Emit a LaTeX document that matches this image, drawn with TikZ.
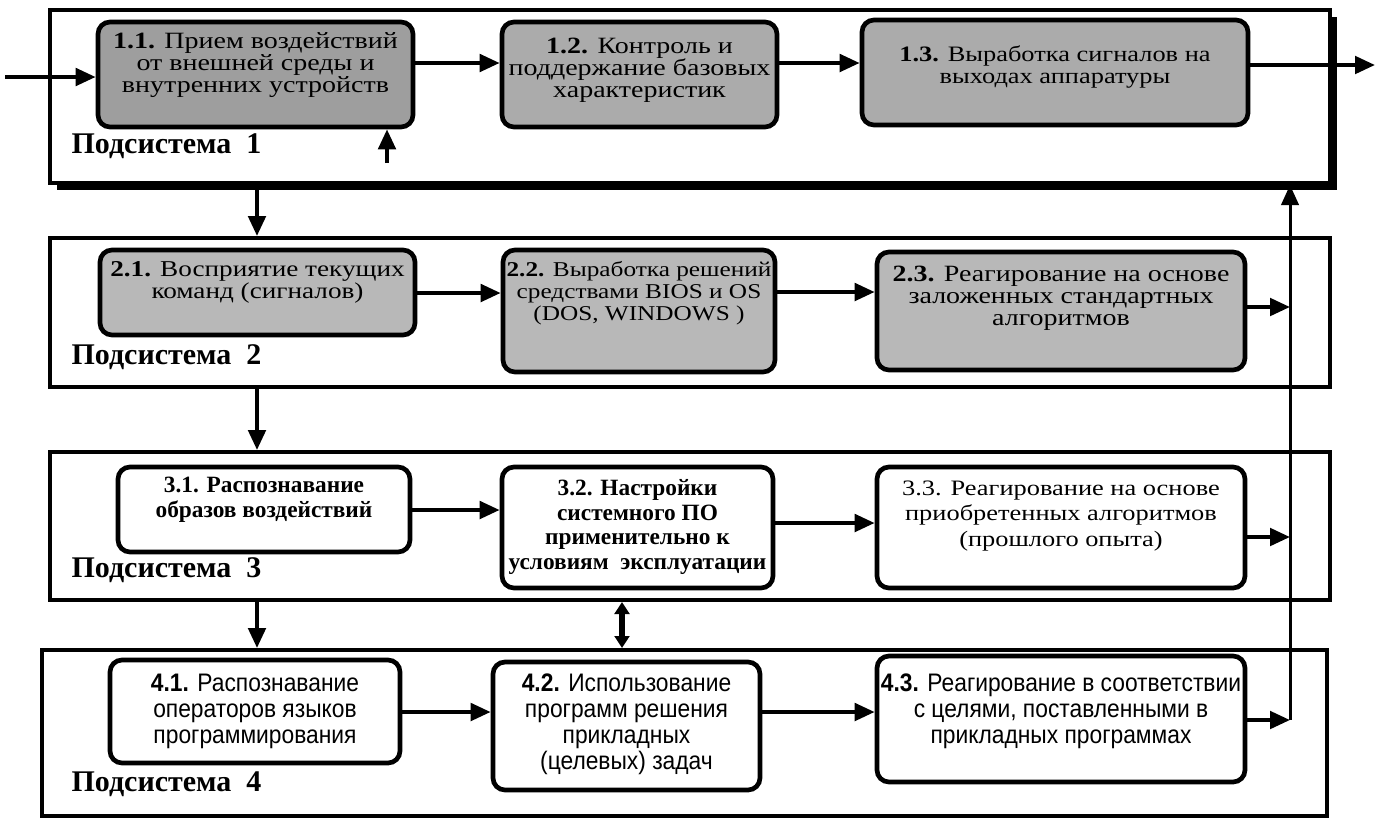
\documentclass[tikz,border=0pt]{standalone}
\usepackage{fontspec}
\setmainfont{Liberation Serif}
\newfontfamily\widerm[FakeStretch=1.2]{Liberation Serif}
\newfontfamily\narrowsf[FakeStretch=0.9]{Liberation Sans}
\usetikzlibrary{arrows.meta,shadows}
\tikzset{every picture/.style={line width=0.75pt}}
\tikzset{
  subsys/.style={draw,line width=3pt,fill=white,inner sep=0pt},
  blk/.style={draw,line width=3.5pt,rounded corners=9pt,inner sep=0pt},
  txt/.style={align=center,inner sep=0.75pt,font=\widerm\fontsize{17.5}{16.5}\selectfont},
  txtb/.style={align=center,inner sep=0.75pt,font=\fontsize{17.5}{18.5}\selectfont\bfseries},
  txtn/.style={align=center,inner sep=0.75pt,font=\narrowsf\fontsize{19}{19.5}\selectfont},
  lbl/.style={anchor=west,inner sep=0.75pt,font=\fontsize{22.5}{24}\selectfont\bfseries},
  arr/.style={line width=3pt,-{Triangle[length=15pt,width=13pt]}},
}

\begin{document}
\begin{tikzpicture}[x=0.75pt,y=0.75pt,yscale=-1,xscale=1]
\useasboundingbox (0,0) rectangle (1376,819);

%Shape: Rectangle [subsystems]
\node[subsys,minimum width=960pt,minimum height=129.75pt,
  drop shadow={shadow xshift=5pt,shadow yshift=-5pt,opacity=1,fill=black}] (fr1) at (690,96.5) {};
\node[subsys,minimum width=960pt,minimum height=111.75pt] (fr2) at (690,312.5) {};
\node[subsys,minimum width=960pt,minimum height=111pt] (fr3) at (690,526) {};
\node[subsys,minimum width=963.75pt,minimum height=124.5pt] (fr4) at (684.5,733) {};

%Shape: Rounded Rect [subsystem 1]
\node[blk,fill=black!38,minimum width=236.25pt,minimum height=78.75pt] (b11) at (255.5,74.5) {};
\node[blk,fill=black!33,minimum width=206.25pt,minimum height=78.75pt] (b12) at (639.5,74.5) {};
\node[blk,fill=black!33,minimum width=289.5pt,minimum height=78.75pt] (b13) at (1055,72.5) {};
%Shape: Rounded Rect [subsystem 2]
\node[blk,fill=black!28,minimum width=236.25pt,minimum height=63.75pt] (b21) at (257.5,292.5) {};
\node[blk,fill=black!28,minimum width=204pt,minimum height=91.5pt] (b22) at (639,311) {};
\node[blk,fill=black!28,minimum width=276pt,minimum height=88.5pt] (b23) at (1061,311) {};
%Shape: Rounded Rect [subsystem 3]
\node[blk,fill=white,minimum width=219pt,minimum height=63.75pt] (b31) at (264,509.5) {};
\node[blk,fill=white,minimum width=203.25pt,minimum height=90.75pt] (b32) at (637.5,527.5) {};
\node[blk,fill=white,minimum width=276pt,minimum height=90.75pt] (b33) at (1061,527.5) {};
%Shape: Rounded Rect [subsystem 4]
\node[blk,fill=white,minimum width=217.5pt,minimum height=77.25pt] (b41) at (255,711.5) {};
\node[blk,fill=white,minimum width=200.25pt,minimum height=96pt] (b42) at (626.5,726) {};
\node[blk,fill=white,minimum width=276pt,minimum height=94.5pt] (b43) at (1061,719) {};

% Text Node
\node[txt] (t11) at (255.5,65) {\textbf{1.1.} Прием воздействий\\от внешней среды и\\внутренних устройств};
\node[txt] (t12) at (639.5,70) {\textbf{1.2.} Контроль и\\поддержание базовых\\характеристик};
\node[txt,font=\widerm\fontsize{16.5}{16.5}\selectfont] (t13) at (1055,67) {\textbf{1.3.} Выработка сигналов на\\выходах аппаратуры};
\node[txt,font=\widerm\fontsize{17}{16.5}\selectfont] (t21) at (257.5,282) {\textbf{2.1.} Восприятие текущих\\команд (сигналов)};
\node[txt,font=\widerm\fontsize{15.8}{16.5}\selectfont] (t22) at (639,293) {\textbf{2.2.} Выработка решений\\средствами BIOS и OS\\(DOS, WINDOWS )};
\node[txt] (t23) at (1061,298) {\textbf{2.3.} Реагирование на основе\\заложенных стандартных\\алгоритмов};
\node[txtb] (t31) at (264,500) {3.1. Распознавание\\образов воздействий};
\node[txtb] (t32) at (637.5,527) {3.2. Настройки\\системного ПО\\применительно к\\условиям~~эксплуатации};
\node[txt,font=\widerm\fontsize{16.5}{19}\selectfont] (t33) at (1061,516) {3.3. Реагирование на основе\\приобретенных алгоритмов\\(прошлого опыта)};
\node[txtn] (t41) at (255,711) {\textbf{4.1.} Распознавание\\операторов языков\\программирования};
\node[txtn] (t42) at (626.5,724) {\textbf{4.2.} Использование\\программ решения\\прикладных\\(целевых) задач};
\node[txtn] (t43) at (1061,711) {\textbf{4.3.} Реагирование в соответствии\\с целями, поставленными в\\прикладных программах};

% Text Node
\node[lbl] (l1) at (70,146) {Подсистема~~1};
\node[lbl] (l2) at (70,357) {Подсистема~~2};
\node[lbl] (l3) at (70,570) {Подсистема~~3};
\node[lbl] (l4) at (70,784) {Подсистема~~4};

%Straight Lines
\coordinate (in) at (5,77);
\coordinate (out) at (1375,65);
\coordinate (up1) at (387,163);
\coordinate (lc) at (257,0);
\coordinate (mc) at (622,0);
\coordinate (rl) at (1290,720);
\draw[arr] (in) -- (in -| b11.west);
\draw[arr] (b11.east |- 0,63) -- (b12.west |- 0,63);
\draw[arr] (b12.east |- 0,63) -- (b13.west |- 0,63);
\draw[arr] (b13.east |- out) -- (out);
\draw[arr] (up1) -- (up1 |- b11.south);
\draw[arr] (lc |- fr1.south) -- (lc |- fr2.north);
\draw[arr] (lc |- fr2.south) -- (lc |- fr3.north);
\draw[arr] (lc |- fr3.south) -- (lc |- fr4.north);
\draw[arr] (b21.east |- 0,293) -- (b22.west |- 0,293);
\draw[arr] (b22.east |- 0,292) -- (b23.west |- 0,292);
\draw[arr] (b31.east |- 0,510) -- (b32.west |- 0,510);
\draw[arr] (b32.east |- 0,523) -- (b33.west |- 0,523);
\draw[arr] (b41.east |- 0,712) -- (b42.west |- 0,712);
\draw[arr] (b42.east |- 0,712) -- (b43.west |- 0,712);
\draw[line width=4pt,{Triangle[length=9pt,width=11pt]}-{Triangle[length=9pt,width=11pt]}] (mc |- fr3.south) -- (mc |- fr4.north);
%Straight Lines [feedback]
\draw[arr] (b23.east |- 0,307) -- (rl |- 0,307);
\draw[arr] (b33.east |- 0,537) -- (rl |- 0,537);
\draw[arr] (b43.east |- rl) -- (rl);
\draw[line width=2.25pt,-{Triangle[length=15pt,width=13pt]}] (rl) -- (rl |- fr1.south);

\end{tikzpicture}
\end{document}
